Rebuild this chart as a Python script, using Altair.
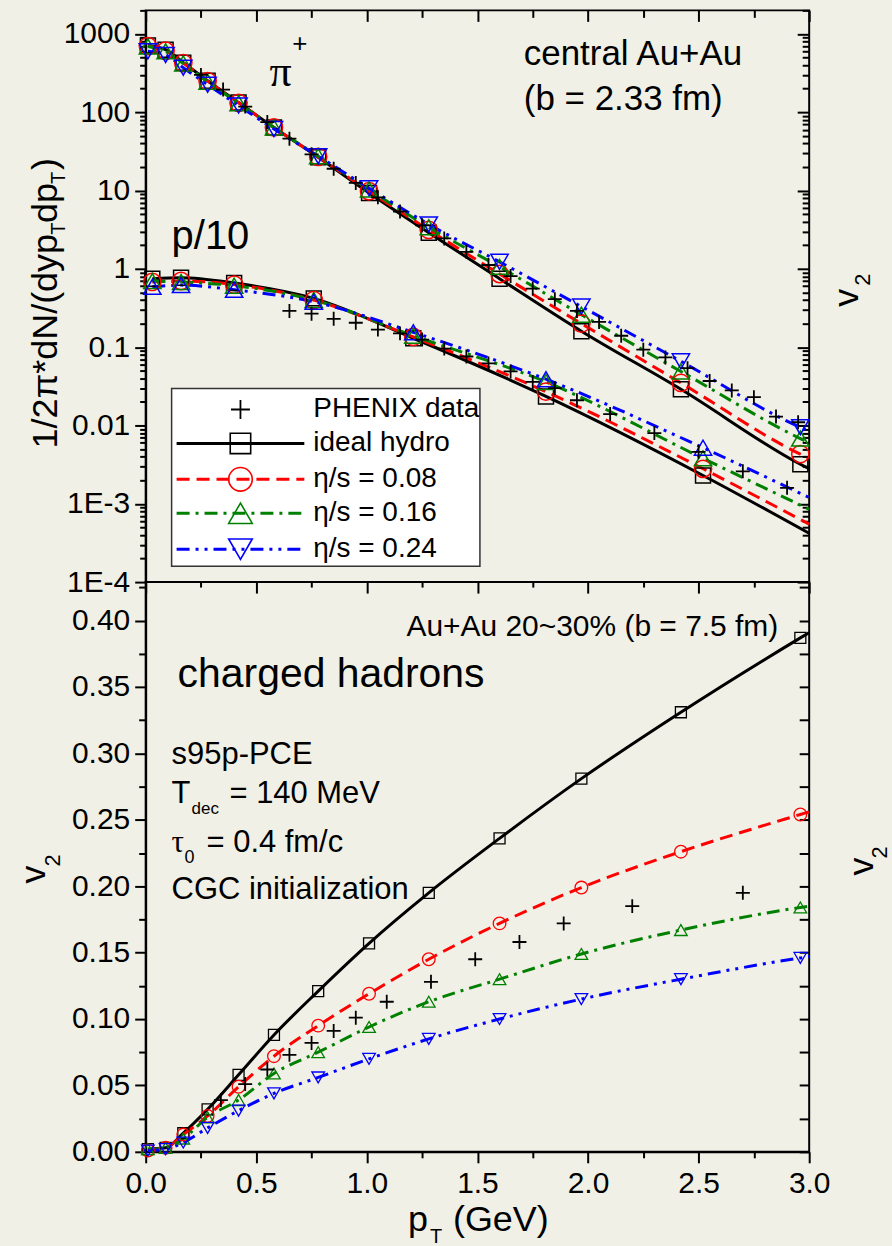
import altair as alt
import pandas as pd

# ---------------- data ----------------
PT_GRID = [0.01, 0.09, 0.17, 0.28, 0.42, 0.58, 0.78, 1.01, 1.28, 1.60, 1.97, 2.42, 2.96]
PT_END = 3.0

# pi+ spectra
PI_IDEAL = [710, 630, 430, 253, 133, 64, 26.6, 9.3, 2.9, 0.75, 0.16, 0.029, 0.0032]
PI_ETA08 = [700, 610, 425, 250, 132, 64, 27.0, 9.8, 3.15, 0.86, 0.20, 0.035, 0.0043]
PI_ETA16 = [690, 600, 420, 245, 130, 64, 27.5, 10.3, 3.4, 1.06, 0.26, 0.049, 0.0068]
PI_ETA24 = [600, 540, 370, 225, 122, 61, 27.5, 10.7, 3.7, 1.23, 0.33, 0.066, 0.0095]
PI_AT_END = [0.0028, 0.0038, 0.0060, 0.0085]

# p/10 spectra
PT_GRID_P = [0.03, 0.16, 0.40, 0.76, 1.21, 1.81, 2.52]
P_IDEAL = [0.75, 0.77, 0.66, 0.42, 0.13, 0.0235, 0.0023]
P_ETA08 = [0.68, 0.70, 0.63, 0.40, 0.135, 0.027, 0.0028]
P_ETA16 = [0.70, 0.68, 0.61, 0.40, 0.14, 0.036, 0.0038]
P_ETA24 = [0.59, 0.62, 0.54, 0.38, 0.155, 0.039, 0.0052]
P_AT_END = [0.00042, 0.00055, 0.00085, 0.0012]

# PHENIX data
PT_PI_DATA = [0.25, 0.35, 0.45, 0.55, 0.65, 0.75, 0.85, 0.95, 1.05, 1.15, 1.25, 1.35, 1.45, 1.55,
              1.65, 1.75, 1.85, 1.95, 2.05, 2.15, 2.25, 2.35, 2.45, 2.55, 2.65, 2.75, 2.85, 2.95]
PI_DATA = [300, 195, 118, 75, 46, 29, 19, 12.5, 8.2, 5.4, 3.6, 2.45, 1.65, 1.12,
           0.81, 0.56, 0.41, 0.29, 0.21, 0.14, 0.093, 0.074, 0.054, 0.037, 0.028, 0.023, 0.013, 0.011]
PT_P_DATA = [0.65, 0.75, 0.85, 0.95, 1.05, 1.15, 1.25, 1.35, 1.45, 1.55, 1.65, 1.75, 1.85, 1.95,
             2.10, 2.30, 2.50, 2.70, 2.90]
P_DATA = [0.29, 0.268, 0.23, 0.205, 0.168, 0.15, 0.125, 0.096, 0.076, 0.062, 0.049, 0.036, 0.030,
          0.021, 0.014, 0.008, 0.0046, 0.0026, 0.0016]

# v2 of charged hadrons
V2_IDEAL = [0.002, 0.003, 0.014, 0.032, 0.058, 0.088, 0.121, 0.157, 0.195, 0.236, 0.281, 0.331, 0.387]
V2_ETA08 = [0.001, 0.003, 0.013, 0.027, 0.049, 0.072, 0.095, 0.119, 0.145, 0.172, 0.199, 0.226, 0.254]
V2_ETA16 = [0.002, 0.003, 0.010, 0.026, 0.039, 0.059, 0.075, 0.094, 0.113, 0.130, 0.149, 0.167, 0.184]
V2_ETA24 = [0.001, 0.002, 0.007, 0.018, 0.031, 0.044, 0.056, 0.070, 0.085, 0.100, 0.115, 0.130, 0.146]
V2_AT_END = [0.391, 0.256, 0.185, 0.147]
PT_V2_DATA = [0.34, 0.45, 0.55, 0.65, 0.75, 0.85, 0.95, 1.09, 1.29, 1.49, 1.69, 1.89, 2.20, 2.70]
V2_DATA = [0.039, 0.051, 0.062, 0.073, 0.082, 0.091, 0.101, 0.113, 0.128, 0.145, 0.158, 0.172, 0.185, 0.195]

LEGEND_LABELS = ["PHENIX data", "ideal hydro", "η/s = 0.08", "η/s = 0.16", "η/s = 0.24"]

# ---------------- styling ----------------
BG = "#f1f0e6"
FONT = "Liberation Sans"
SERIF = "Liberation Serif"
W, H_TOP, H_BOT = 665, 573, 571
CROSS = "M-1,0L1,0M0,-1L0,1"

STYLES = [
    dict(color="#000000", dash=None, shape="square"),
    dict(color="#ff0000", dash=[13, 7], shape="circle"),
    dict(color="#008000", dash=[13, 6, 3, 6], shape="triangle-up"),
    dict(color="#0000ff", dash=[13, 6, 3, 6, 3, 6], shape="triangle-down"),
]
P_SHAPES = ["square", "circle", "triangle-up", "triangle-up"]


def df(xs, ys):
    return pd.DataFrame({"pT": xs, "val": ys})


XS = alt.Scale(domain=[0, 3], nice=False, zero=False)
YS_TOP = alt.Scale(type="log", domain=[1e-4, 2000], nice=False)
YS_BOT = alt.Scale(domain=[0, 0.429], nice=False, zero=False)


def enc(ys, xaxis=None, yaxis=None):
    return dict(x=alt.X("pT:Q", scale=XS, axis=xaxis), y=alt.Y("val:Q", scale=ys, axis=yaxis))


def line(data, ys, st):
    kw = dict(color=st["color"], strokeWidth=3, strokeCap="butt", interpolate="monotone")
    if st["dash"]:
        kw["strokeDash"] = st["dash"]
    return alt.Chart(data).mark_line(**kw).encode(**enc(ys))


def pts(data, ys, shape, color, size, sw=1.5):
    return alt.Chart(data).mark_point(shape=shape, filled=False, size=size, color=color,
                                      strokeWidth=sw, opacity=1).encode(**enc(ys))


AXB = dict(labelFont=FONT, labelFontSize=30, labelColor="black", tickColor="black",
           domainColor="black", tickWidth=2, domainWidth=2, grid=False, title=None,
           labelOverlap=False, labelFlush=False)


def ax(**kw):
    d = dict(AXB)
    d.update(kw)
    return alt.Axis(**d)


def axis_layer(ys, xaxis=None, yaxis=None):
    return alt.Chart(df([1.0], [0.1])).mark_point(opacity=0).encode(**enc(ys, xaxis, yaxis))


def txt(s, x, y, size, align="left", angle=0, font=FONT, baseline="alphabetic"):
    kw = dict(text=s, align=align, baseline=baseline, fontSize=size, font=font, color="black")
    if angle:
        kw["angle"] = angle
    return alt.Chart(alt.Data(values=[{}])).mark_text(**kw).encode(x=alt.value(x), y=alt.value(y))


def blank():
    return alt.Chart(alt.Data(values=[{}]))


X_MAJ = [0, 0.5, 1.0, 1.5, 2.0, 2.5, 3.0]
X_MIN = [0.25, 0.75, 1.25, 1.75, 2.25, 2.75]
LOG_MAJ = [1e-4, 1e-3, 0.01, 0.1, 1, 10, 100, 1000]
LOG_MIN = [k * 10.0 ** e for e in range(-4, 4) for k in range(2, 10) if k * 10.0 ** e <= 2000]
V_MAJ = [round(0.05 * i, 3) for i in range(9)]
V_MIN = [round(0.025 + 0.05 * i, 3) for i in range(9)]
V_ALL = [round(0.025 * i, 3) for i in range(18)]

# ---------------- top panel ----------------
top_layers = []
pi_sets = [PI_IDEAL, PI_ETA08, PI_ETA16, PI_ETA24]
p_sets = [P_IDEAL, P_ETA08, P_ETA16, P_ETA24]
for i, st in enumerate(STYLES):
    top_layers.append(line(df(PT_GRID + [PT_END], pi_sets[i] + [PI_AT_END[i]]), YS_TOP, st))
    top_layers.append(line(df(PT_GRID_P + [PT_END], p_sets[i] + [P_AT_END[i]]), YS_TOP, st))
for i, st in enumerate(STYLES):
    sz = 225 if st["shape"] == "square" else 300
    top_layers.append(pts(df(PT_GRID, pi_sets[i]), YS_TOP, st["shape"], st["color"], sz))
    top_layers.append(pts(df(PT_GRID_P, p_sets[i]), YS_TOP, P_SHAPES[i], st["color"], sz))
top_layers.append(pts(df(PT_PI_DATA, PI_DATA), YS_TOP, CROSS, "black", 196, 1.8))
top_layers.append(pts(df(PT_P_DATA, P_DATA), YS_TOP, CROSS, "black", 196, 1.8))

# axes
top_layers += [
    axis_layer(YS_TOP, yaxis=ax(orient="left", values=LOG_MAJ, format="~g",
                                labelExpr="datum.value < 0.0005 ? '1E-4' : (datum.value < 0.005 ? '1E-3' : datum.label)",
                                tickSize=11, labelPadding=5)),
    axis_layer(YS_TOP, yaxis=ax(orient="left", values=LOG_MIN, tickSize=6, labels=False, domain=False)),
    axis_layer(YS_TOP, yaxis=ax(orient="left", offset=-W, values=LOG_MAJ, tickSize=12, labels=False, domain=False)),
    axis_layer(YS_TOP, yaxis=ax(orient="left", offset=-W, values=LOG_MIN, tickSize=7, labels=False, domain=False)),
    axis_layer(YS_TOP, xaxis=ax(orient="bottom", offset=-H_TOP, values=X_MAJ, tickSize=11, labels=False, domain=False)),
    axis_layer(YS_TOP, xaxis=ax(orient="bottom", offset=-H_TOP, values=X_MIN, tickSize=7, labels=False, domain=False)),
]

# legend box (drawn by hand)
top_layers.append(blank().mark_rect(fill="white", stroke="#333333", strokeWidth=1.5).encode(
    x=alt.value(26), x2=alt.value(335), y=alt.value(379), y2=alt.value(557)))
rows = [400, 434, 470, 504, 540]
top_layers.append(blank().mark_point(shape=CROSS, size=361, color="black", strokeWidth=1.8, opacity=1).encode(
    x=alt.value(95), y=alt.value(rows[0])))
for i, st in enumerate(STYLES):
    r = rows[i + 1]
    kw = dict(color=st["color"], strokeWidth=3, strokeCap="butt")
    if st["dash"]:
        kw["strokeDash"] = st["dash"]
    top_layers.append(blank().mark_rule(**kw).encode(x=alt.value(31), x2=alt.value(159), y=alt.value(r)))
    sz = 420 if st["shape"] == "square" else 560
    top_layers.append(blank().mark_point(shape=st["shape"], filled=False, size=sz, color=st["color"],
                                         strokeWidth=1.6, opacity=1).encode(x=alt.value(95), y=alt.value(r)))
for i, lab in enumerate(LEGEND_LABELS):
    top_layers.append(txt(lab, 168, rows[i], 28, baseline="middle"))

# annotations and axis titles
top_layers += [
    txt("central Au+Au", 379, 55, 35),
    txt("(b = 2.33 fm)", 379, 100, 35),
    txt("π", 124, 76, 44, font=SERIF),
    txt("+", 147, 42, 26),
    txt("p/10", 26, 239, 40),
    txt("1/2π*dN/(dyp", -89, 439, 36, angle=270),
    txt("T", -81, 225, 20, angle=270),
    txt("dp", -89, 213, 36, angle=270),
    txt("T", -81, 174, 20, angle=270),
    txt(")", -89, 160, 36, angle=270),
    txt("v", 714, 297, 36, angle=270),
    txt("2", 726, 276, 22, angle=270),
    # anchor so that the plot origin lands at (144, 8)
    blank().mark_rule(color=BG, strokeWidth=1).encode(
        x=alt.value(-144), x2=alt.value(-143), y=alt.value(-7.5)),
]

top = alt.layer(*top_layers).resolve_axis(x="independent", y="independent").properties(
    width=W, height=H_TOP)

# ---------------- bottom panel ----------------
bot_layers = []
v2_sets = [V2_IDEAL, V2_ETA08, V2_ETA16, V2_ETA24]
for i, st in enumerate(STYLES):
    bot_layers.append(line(df(PT_GRID + [PT_END], v2_sets[i] + [V2_AT_END[i]]), YS_BOT, st))
for i, st in enumerate(STYLES):
    sz = 121 if st["shape"] == "square" else 160
    bot_layers.append(pts(df(PT_GRID, v2_sets[i]), YS_BOT, st["shape"], st["color"], sz, 1.3))
bot_layers.append(pts(df(PT_V2_DATA, V2_DATA), YS_BOT, CROSS, "black", 196, 1.8))

bot_layers += [
    axis_layer(YS_BOT, yaxis=ax(orient="left", values=V_MAJ, format=".2f", tickSize=11, labelPadding=5)),
    axis_layer(YS_BOT, yaxis=ax(orient="left", values=V_MIN, tickSize=7, labels=False, domain=False)),
    axis_layer(YS_BOT, yaxis=ax(orient="left", offset=-W, values=V_ALL, tickSize=10, labels=False, domain=False)),
    axis_layer(YS_BOT, xaxis=ax(orient="bottom", offset=-H_BOT, values=X_MAJ, tickSize=11, labels=False, domain=False)),
    axis_layer(YS_BOT, xaxis=ax(orient="bottom", offset=-H_BOT, values=X_MIN, tickSize=5, labels=False, domain=False)),
    axis_layer(YS_BOT, xaxis=ax(orient="bottom", values=X_MAJ, format=".1f", tickSize=11, labelPadding=6)),
    axis_layer(YS_BOT, xaxis=ax(orient="bottom", values=X_MIN, tickSize=6, labels=False, domain=False)),
]

bot_layers += [
    txt("Au+Au 20~30% (b = 7.5 fm)", 634, 54, 30, align="right"),
    txt("charged hadrons", 32, 105, 41),
    txt("s95p-PCE", 26, 182, 31),
    txt("T", 26, 221, 31),
    txt("dec", 46, 232, 17),
    txt("= 140 MeV", 84, 221, 31),
    txt("τ", 26, 271, 31, font=SERIF),
    txt("0", 39, 282, 18),
    txt("= 0.4 fm/c", 61, 271, 31),
    txt("CGC initialization", 26, 318, 31),
    txt("v", -101, 302, 36, angle=270),
    txt("2", -86, 285, 22, angle=270),
    txt("v", 729, 294, 36, angle=270),
    txt("2", 743, 277, 22, angle=270),
    txt("p", 263, 650, 36),
    txt("T", 285, 662, 20),
    txt("(GeV)", 308, 650, 36),
]

bottom = alt.layer(*bot_layers).resolve_axis(x="independent", y="independent").properties(
    width=W, height=H_BOT)

chart = alt.vconcat(top, bottom, spacing=0, bounds="flush").properties(
    padding={"left": 0, "top": 0, "right": 0, "bottom": 0}
).configure(background=BG, font=FONT).configure_view(stroke="black", strokeWidth=2)

chart.save("out.html", embed_options={"renderer": "svg", "actions": False})
